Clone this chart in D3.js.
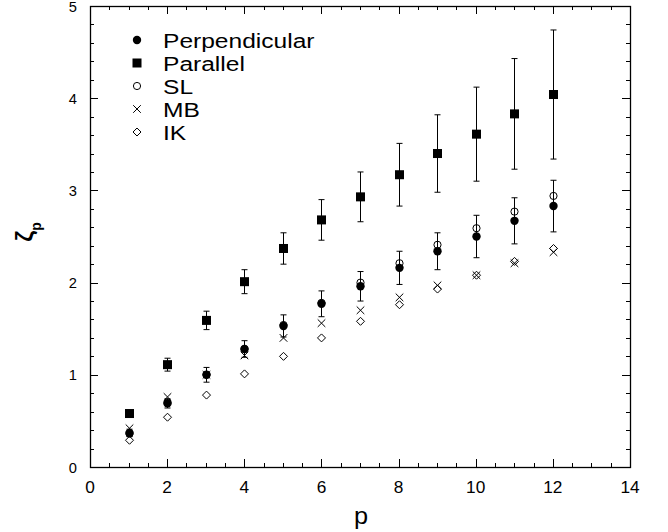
<!DOCTYPE html>
<html>
<head>
<meta charset="utf-8">
<script src="https://cdn.jsdelivr.net/npm/d3@7/dist/d3.min.js"></script>
<style>
  body { margin: 0; background: #fff; }
  text { font-family: "Liberation Sans", Arial, sans-serif; fill: #000; }
</style>
</head>
<body>
<svg id="chart" width="668" height="532"></svg>
<script>
// order p of the structure function
var orders = [1, 2, 3, 4, 5, 6, 7, 8, 9, 10, 11, 12];

// measured exponents, with error bars
var perpValues = [0.37, 0.69, 1.00, 1.28, 1.53, 1.77, 1.96, 2.16, 2.34, 2.50, 2.67, 2.83];
var perpErrors = [0.04, 0.05, 0.08, 0.09, 0.12, 0.14, 0.16, 0.18, 0.20, 0.23, 0.25, 0.28];
var parValues = [0.58, 1.11, 1.59, 2.01, 2.37, 2.68, 2.93, 3.17, 3.40, 3.61, 3.83, 4.04];
var parErrors = [0.02, 0.07, 0.10, 0.13, 0.17, 0.22, 0.27, 0.34, 0.42, 0.51, 0.60, 0.70];

// model predictions
var slValues = [0.36, 0.70, 1.00, 1.28, 1.54, 1.78, 2.00, 2.21, 2.41, 2.59, 2.77, 2.94];
var mbValues = [0.42, 0.76, 1.00, 1.21, 1.40, 1.56, 1.70, 1.84, 1.97, 2.08, 2.21, 2.33];
var ikValues = [0.29, 0.54, 0.78, 1.01, 1.20, 1.40, 1.58, 1.76, 1.93, 2.08, 2.23, 2.37];

var xTicks = [0, 2, 4, 6, 8, 10, 12, 14];
var yTicks = [0, 1, 2, 3, 4, 5];
var legendLabels = ['Perpendicular', 'Parallel', 'SL', 'MB', 'IK'];

var svg = d3.select('#chart');

// plot box (note: "top" is reserved on window, so prefix these)
var plotL = 90, plotR = 630, plotT = 6, plotB = 467;

var x = d3.scaleLinear().domain([0, 14]).range([plotL, plotR]);
var y = d3.scaleLinear().domain([0, 5]).range([plotB, plotT]);

// text drawn slightly wide, like the original renderer
function wideText(g, tx, ty, stretch) {
    return g.append('text')
        .attr('transform', 'translate(' + tx + ',' + ty + ') scale(' + stretch + ',1)');
}

// frame with inward ticks on all four sides
function drawFrame() {
    var g = svg.append('g').attr('class', 'ticks')
        .attr('stroke', '#000').attr('stroke-width', 1);
    var xs = d3.range(0, 14.01, 0.5), ys = d3.range(0, 5.01, 0.2);

    xs.forEach(function(v) {
        var major = Math.abs(v - Math.round(v / 2) * 2) < 1e-6;
        var len = major ? 8 : 4, px = Math.round(x(v)) + 0.5;
        g.append('line').attr('x1', px).attr('x2', px).attr('y1', plotB).attr('y2', plotB - len);
        g.append('line').attr('x1', px).attr('x2', px).attr('y1', plotT).attr('y2', plotT + len);
    });
    ys.forEach(function(v) {
        var major = Math.abs(v - Math.round(v)) < 1e-6;
        var len = major ? 8 : 4, py = Math.round(y(v)) + 0.5;
        g.append('line').attr('y1', py).attr('y2', py).attr('x1', plotL).attr('x2', plotL + len);
        g.append('line').attr('y1', py).attr('y2', py).attr('x1', plotR).attr('x2', plotR - len);
    });

    svg.append('rect')
        .attr('x', plotL + 0.5).attr('y', plotT + 0.5)
        .attr('width', plotR - plotL).attr('height', plotB - plotT)
        .attr('fill', 'none').attr('stroke', '#000').attr('stroke-width', 1.3);
}

drawFrame();

var labels = svg.append('g');
xTicks.forEach(function(d) {
    wideText(labels, x(d), 492.5, 1.08)
        .attr('text-anchor', 'middle')
        .style('font-size', '16px')
        .text(d);
});
yTicks.forEach(function(d) {
    wideText(labels, 77, y(d) + 5.5, 1.05)
        .attr('text-anchor', 'end')
        .style('font-size', '14px')
        .text(d);
});

wideText(labels, x(7) + 1, 524, 1.1)
    .attr('text-anchor', 'middle')
    .style('font-size', '23px')
    .text('p');

var yl = svg.append('text')
    .attr('transform', 'translate(33,232) rotate(-90)')
    .attr('text-anchor', 'middle')
    .style('font-size', '24px')
    .style('font-weight', 'bold');
yl.append('tspan').text('ζ');
yl.append('tspan').attr('dy', 8).style('font-size', '14px').text('p');

// markers
function circleFilled(g, cx, cy) {
    g.append('circle').attr('cx', cx).attr('cy', cy).attr('r', 4.2).attr('fill', '#000');
}
function square(g, cx, cy) {
    g.append('rect').attr('x', cx - 4.5).attr('y', cy - 4.5).attr('width', 9).attr('height', 9).attr('fill', '#000');
}
function circleOpen(g, cx, cy) {
    g.append('circle').attr('cx', cx).attr('cy', cy).attr('r', 3.6)
        .attr('fill', 'none').attr('stroke', '#000').attr('stroke-width', 1);
}
function cross(g, cx, cy) {
    var s = 3.8;
    g.append('path')
        .attr('d', 'M' + (cx - s) + ',' + (cy - s) + 'L' + (cx + s) + ',' + (cy + s) +
            'M' + (cx - s) + ',' + (cy + s) + 'L' + (cx + s) + ',' + (cy - s))
        .attr('stroke', '#000').attr('stroke-width', 1).attr('fill', 'none');
}
function diamond(g, cx, cy) {
    var s = 4;
    g.append('path')
        .attr('d', 'M' + cx + ',' + (cy - s) + 'L' + (cx + s) + ',' + cy + 'L' + cx + ',' + (cy + s) +
            'L' + (cx - s) + ',' + cy + 'Z')
        .attr('stroke', '#000').attr('stroke-width', 1).attr('fill', '#fff');
}

function errorBars(values, errors) {
    var g = svg.append('g').attr('stroke', '#000').attr('stroke-width', 1);
    orders.forEach(function(p, i) {
        var px = Math.round(x(p)) + 0.5;
        var y1 = y(values[i] + errors[i]), y0 = y(values[i] - errors[i]);
        g.append('line').attr('x1', px).attr('x2', px).attr('y1', y1).attr('y2', y0);
        g.append('line').attr('x1', px - 3).attr('x2', px + 3).attr('y1', y1).attr('y2', y1);
        g.append('line').attr('x1', px - 3).attr('x2', px + 3).attr('y1', y0).attr('y2', y0);
    });
}

function series(values, marker) {
    var g = svg.append('g');
    orders.forEach(function(p, i) {
        marker(g, Math.round(x(p)) + 0.5, y(values[i]));
    });
}

errorBars(parValues, parErrors);
errorBars(perpValues, perpErrors);
series(ikValues, diamond);
series(mbValues, cross);
series(slValues, circleOpen);
series(perpValues, circleFilled);
series(parValues, square);

// legend
var markers = [circleFilled, square, circleOpen, cross, diamond];
var lg = svg.append('g');
legendLabels.forEach(function(label, i) {
    var ly = 40 + i * 23;
    markers[i](lg, 137, ly);
    wideText(lg, 163, ly + 8, 1.17)
        .style('font-size', '21px')
        .text(label);
});
</script>
</body>
</html>
